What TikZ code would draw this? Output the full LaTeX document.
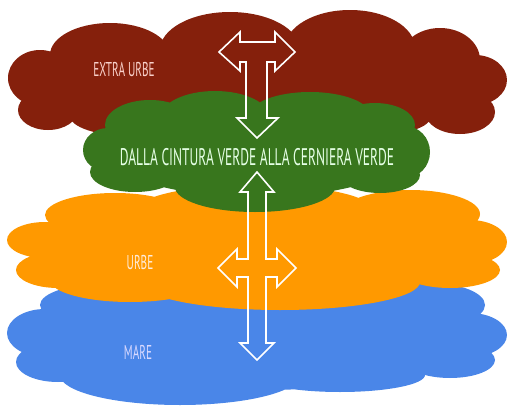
\documentclass[tikz,border=0pt]{standalone}
\usepackage{fontspec}
\newfontfamily\handfont[FakeStretch=0.56]{PT Sans}
\definecolor{extrabrown}{HTML}{85200C}
\definecolor{cinturagreen}{HTML}{38761D}
\definecolor{urbeorange}{HTML}{FF9900}
\definecolor{mareblue}{HTML}{4A86E8}
\tikzset{
    lbl/.style={inner sep=0pt, font=\handfont\fontsize{20}{20}\selectfont},
    dblarrow/.style={draw=white, line width=1.6pt, line join=miter},
}
% colour, list of lobes x/y/rx/ry
\newcommand{\lobecloud}[2]{%
    \fill[#1] \foreach \cx/\cy/\rx/\ry in {#2} {
        (\cx,\cy) ellipse [x radius=\rx pt, y radius=\ry pt]
    };
}

\begin{document}
\begin{tikzpicture}[x=1pt, y=-1pt]
    \useasboundingbox (0,0) rectangle (507,407);

    \lobecloud{extrabrown}{257/85/220/45, 40/78/32/28, 48/110/30/20, 110/55/60/32,
        230/50/70/38, 350/48/65/38, 440/60/40/32, 475/80/32/25, 460/112/35/22,
        350/118/80/20, 130/116/60/20}
    \lobecloud{mareblue}{257/345/225/45, 45/333/38/24, 58/362/42/20, 110/305/70/22,
        270/302/120/22, 430/305/55/22, 470/335/37/22, 450/360/45/18,
        340/375/85/17, 180/375/120/30}
    \lobecloud{urbeorange}{256/250/225/45, 45/240/38/18, 58/270/42/18, 130/280/80/22,
        115/215/70/22, 255/208/115/23, 410/214/70/24, 470/242/37/22,
        450/270/50/18, 280/282/140/28}
    \lobecloud{cinturagreen}{257/152/150/45, 108/150/25/22, 150/125/45/25, 215/118/55/27,
        310/115/60/23, 375/125/40/22, 405/152/25/26, 380/175/40/18,
        255/187/80/25, 135/172/45/20}

    \node[lbl, text=red!15!white!90!brown] (eutxt) at (124,69) {EXTRA URBE};
    \node[lbl, text=green!10!white, font=\handfont\fontsize{24}{24}\selectfont] (cvtxt) at (257,157) {DALLA CINTURA VERDE ALLA CERNIERA VERDE};
    \node[lbl, text=orange!15!white] (urbetxt) at (140,263) {URBE};
    \node[lbl, text=blue!15!white] (maretxt) at (138,352) {MARE};

    \draw[dblarrow] (219,52) -- (240,32) -- (240,42) -- (275,42) -- (275,32) -- (295,52)
        -- (275,71) -- (275,62) -- (267,62) -- (267,118) -- (278,118) -- (257,138)
        -- (237,118) -- (246,118) -- (246,62) -- (240,62) -- (240,71) -- cycle;

    \draw[dblarrow] (257,172) -- (274,192) -- (266,192) -- (266,259) -- (277,259)
        -- (277,249) -- (296,268) -- (277,287) -- (277,277) -- (266,277) -- (266,343)
        -- (274,343) -- (257,360) -- (240,343) -- (248,343) -- (248,277) -- (237,277)
        -- (237,287) -- (218,268) -- (237,249) -- (237,259) -- (248,259) -- (248,192)
        -- (240,192) -- cycle;
\end{tikzpicture}
\end{document}
